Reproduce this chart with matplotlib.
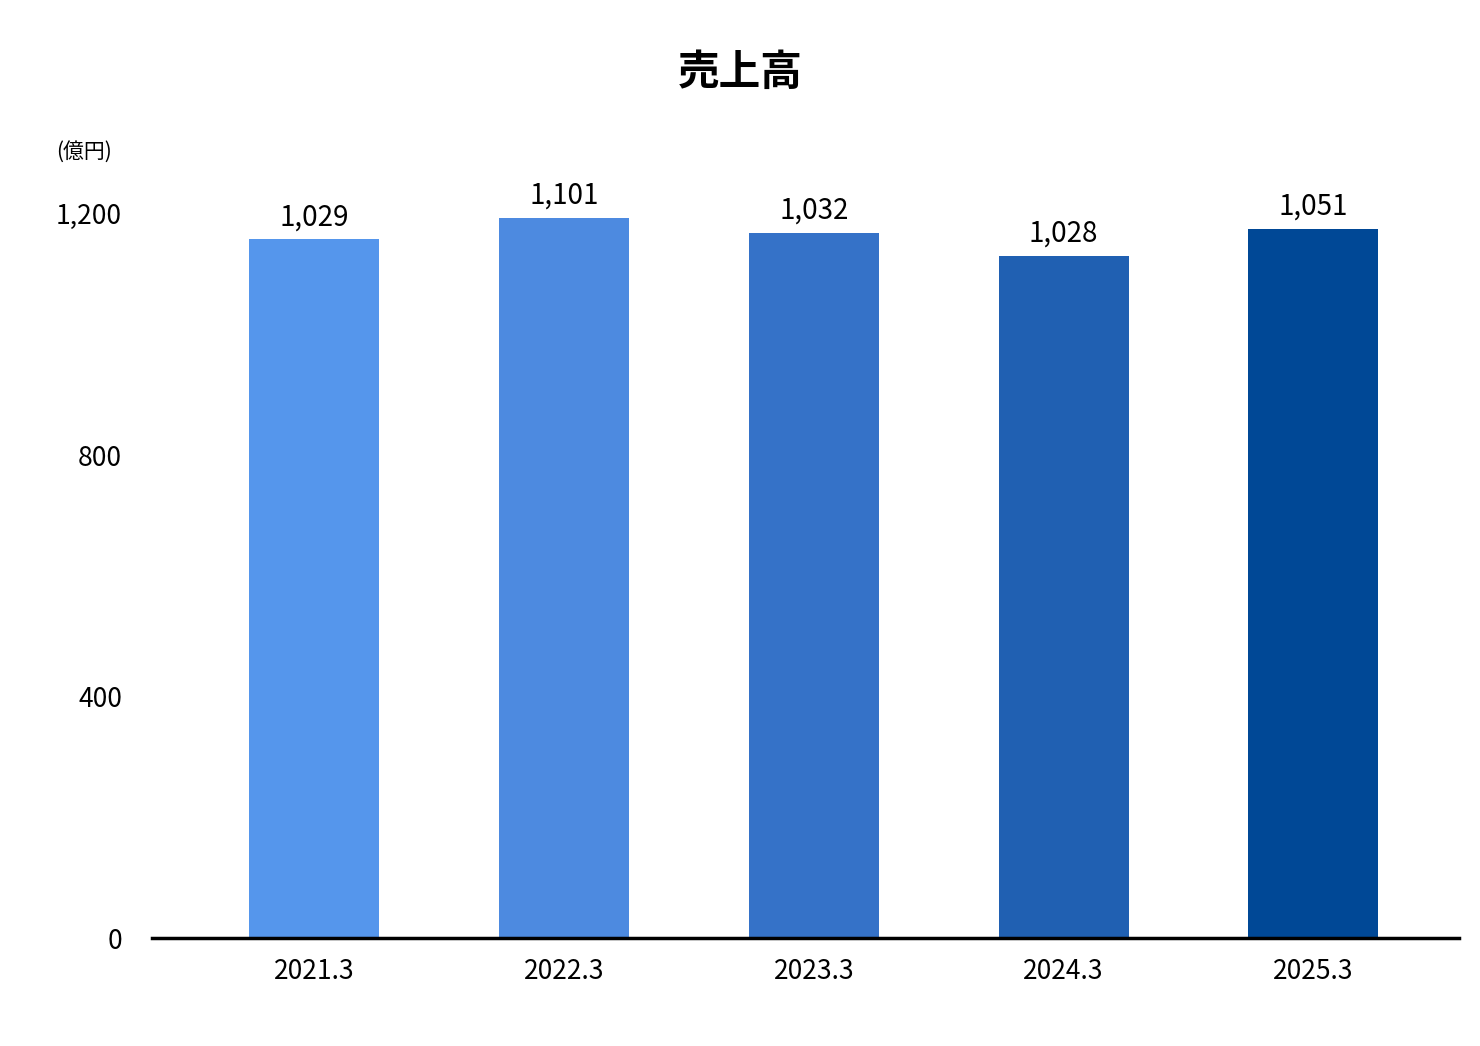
import matplotlib
matplotlib.use("Agg")
import matplotlib.pyplot as plt

plt.rcParams['font.family'] = ['Noto Sans CJK JP', 'DejaVu Sans']

years = ["2021.3", "2022.3", "2023.3", "2024.3", "2025.3"]
heights = [1157, 1192, 1167, 1129, 1174]
labels = ["1,029", "1,101", "1,032", "1,028", "1,051"]
colors = ["#5596EC", "#4D8AE0", "#3572C8", "#2060B2", "#004896"]

fig = plt.figure(figsize=(14.8, 10.46), dpi=100)
ax = fig.add_axes([0.103, 0.103, 0.883, 0.693])

x = range(len(years))
bars = ax.bar(x, heights, width=0.52, color=colors)
for b, lab in zip(bars, labels):
    ax.text(b.get_x() + b.get_width() / 2, b.get_height() + 12, lab,
            ha='center', va='bottom', fontsize=20, clip_on=False)

ax.set_xlim(-0.648, 4.584)
ax.set_ylim(0, 1200)
ax.set_yticks([0, 400, 800, 1200])
ax.set_yticklabels(["0", "400", "800", "1,200"])
ax.set_xticks(list(x))
ax.set_xticklabels(years)
ax.tick_params(axis='both', length=0, labelsize=19)
ax.tick_params(axis='x', pad=14)
ax.tick_params(axis='y', pad=22)
for s in ['top', 'right', 'left']:
    ax.spines[s].set_visible(False)
ax.spines['bottom'].set_linewidth(2.5)

fig.text(0.5, 0.93, "売上高", ha='center', va='center', fontsize=30, fontweight='bold')
fig.text(0.057, 0.855, "(億円)", ha='center', va='center', fontsize=15)

fig.savefig("out.png")
